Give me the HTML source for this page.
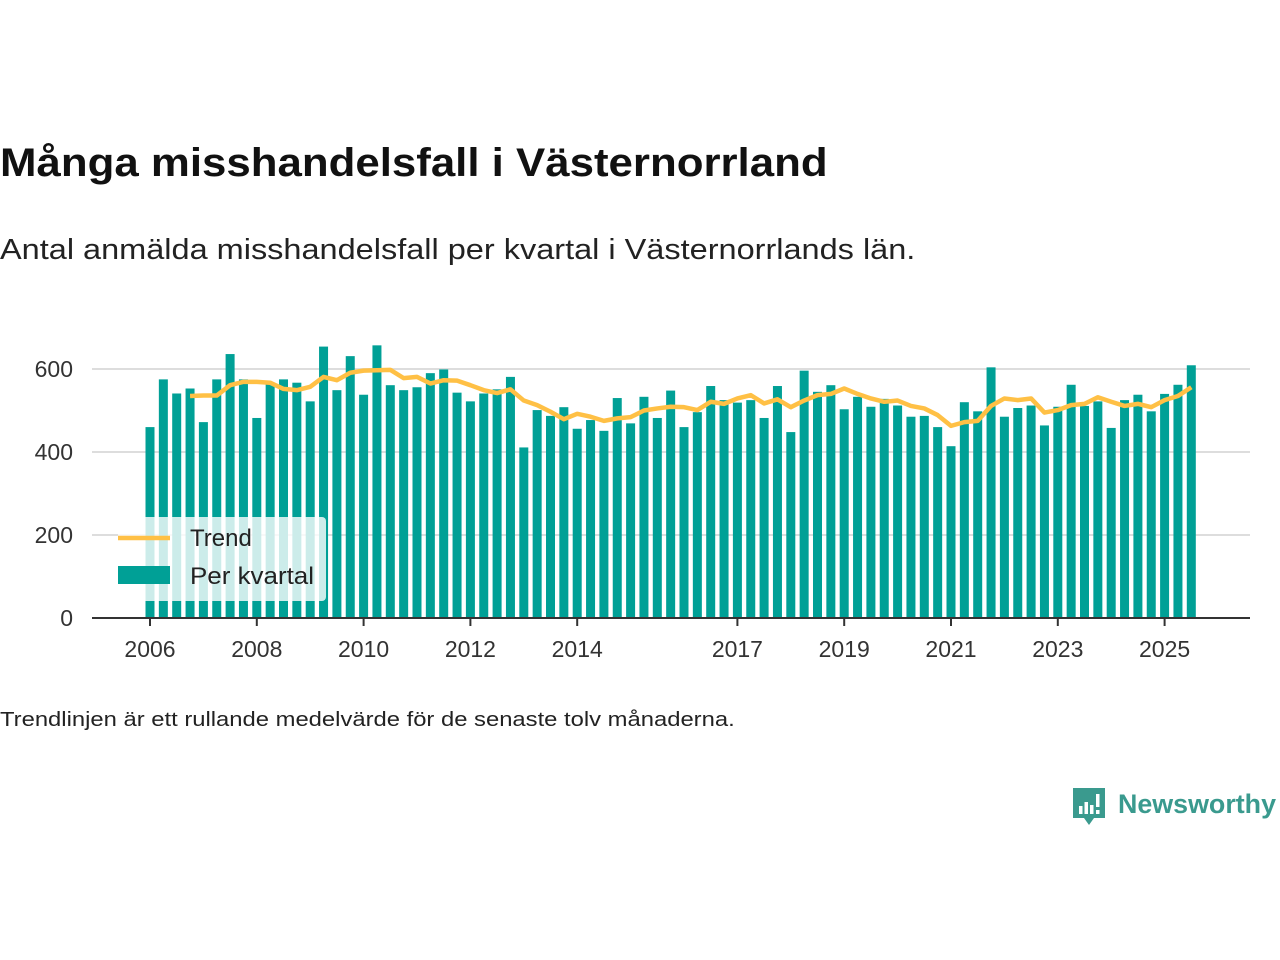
<!DOCTYPE html>
<html><head><meta charset="utf-8">
<style>
html,body{margin:0;padding:0;background:#fff;width:1280px;height:960px;overflow:hidden;font-family:"Liberation Sans",sans-serif;}
#title{position:absolute;left:0;top:141px;font-size:40px;font-weight:bold;color:#111;margin:0;transform-origin:0 0;transform:scaleX(1.095);white-space:nowrap}
#sub{position:absolute;left:0;top:234px;font-size:29px;color:#222;transform-origin:0 0;transform:scaleX(1.12);white-space:nowrap}
#note{position:absolute;left:0;top:709px;font-size:20px;color:#222;transform-origin:0 0;transform:scaleX(1.19);white-space:nowrap}
#logo{position:absolute;left:1070px;top:786px;}
svg text{font-family:"Liberation Sans",sans-serif;}
</style></head><body>
<h1 id="title">Många misshandelsfall i Västernorrland</h1>
<div id="sub">Antal anmälda misshandelsfall per kvartal i Västernorrlands län.</div>
<svg id="chart" width="1280" height="960" style="position:absolute;left:0;top:0"></svg>
<div id="note">Trendlinjen är ett rullande medelvärde för de senaste tolv månaderna.</div>
<div id="logo">
<svg width="210" height="44">
<path d="M3 2 h32 v30 h-11 l-5 7 l-5 -7 h-11 z" fill="#3a9a8e"/>
<rect x="9" y="20" width="3.5" height="8" fill="#fff"/><rect x="14.5" y="16" width="3.5" height="12" fill="#fff"/><rect x="20" y="19" width="3.5" height="9" fill="#fff"/><rect x="26" y="8" width="3.5" height="13" fill="#fff"/><rect x="26" y="24" width="3.5" height="4" fill="#fff"/>
<text x="48" y="27" font-size="27" font-weight="bold" fill="#3a9a8e" textLength="158" lengthAdjust="spacingAndGlyphs">Newsworthy</text>
</svg></div>
<script>
const startYear = 2006;
const values = [460,575,541,553,472,575,636,575,482,565,575,567,522,654,549,631,538,657,561,549,556,590,599,543,522,541,551,581,411,501,487,508,456,477,451,530,469,533,482,548,460,496,559,525,519,525,482,559,448,596,545,561,503,533,509,528,512,485,487,460,414,520,498,604,485,506,512,464,509,562,511,522,458,525,538,498,540,562,609];
const trend = [null,null,null,535,536,536,561,569,569,567,552,549,557,581,573,591,596,597,598,578,581,565,573,572,561,549,542,551,524,513,497,479,492,485,475,481,484,500,505,509,508,501,521,516,529,537,517,527,508,524,537,540,553,540,529,521,524,511,505,489,463,472,475,511,529,525,529,495,501,513,516,532,521,511,516,508,525,535,556];
const yTicks = [0,200,400,600];
const xTickYears = [2006,2008,2010,2012,2014,2017,2019,2021,2023,2025];

const NS='http://www.w3.org/2000/svg';
const svg=document.getElementById('chart');
const x0=150, step=13.35, yBase=618, yScale=249/600;
function xq(i){return x0+i*step;}
function yv(v){return yBase-v*yScale;}
function mk(tag,attrs){const e=document.createElementNS(NS,tag);for(const k in attrs)e.setAttribute(k,attrs[k]);svg.appendChild(e);return e;}

yTicks.forEach(t=>{
  if(t>0){const g=mk('line',{x1:92,x2:1250,y1:yv(t),y2:yv(t),stroke:'#ddd','stroke-width':2});
  
  }
  const tx=mk('text',{x:73,y:yv(t)+8,'text-anchor':'end','font-size':23,fill:'#333'});
  tx.textContent=t;
  
  
});
values.forEach((v,i)=>{
  const r=mk('rect',{x:xq(i)-4.5,y:yv(v),width:9,height:v*yScale,fill:'#00a096'});
  
  
});
const ax=mk('line',{x1:92,x2:1250,y1:yBase,y2:yBase,stroke:'#333','stroke-width':2});


xTickYears.forEach(yr=>{
  const x=xq((yr-startYear)*4);
  const tk=mk('line',{x1:x,x2:x,y1:yBase,y2:yBase+8,stroke:'#333','stroke-width':2});
  
  
  const tx=mk('text',{x:x,y:yBase+39,'text-anchor':'middle','font-size':23,fill:'#333'});
  tx.textContent=yr;
  
  
});
let d='';
trend.forEach((v,i)=>{if(v==null)return;d+=(d?'L':'M')+xq(i)+' '+yv(v)+' ';});
const tl=mk('path',{d:d,fill:'none',stroke:'#ffc045','stroke-width':4.5,'stroke-linejoin':'round'});


const lb=mk('rect',{x:118,y:517,width:208,height:84,rx:4,fill:'rgba(255,255,255,0.8)'});


const l1=mk('line',{x1:118,x2:170,y1:538,y2:538,stroke:'#ffc045','stroke-width':4.5});


const t1=mk('text',{x:190,y:546,'font-size':24,fill:'#222'});t1.textContent='Trend';


const l2=mk('rect',{x:118,y:566,width:52,height:18,fill:'#00a096'});


const t2=mk('text',{x:190,y:584,'font-size':24,fill:'#222',textLength:124,lengthAdjust:'spacingAndGlyphs'});t2.textContent='Per kvartal';


</script>
</body></html>
